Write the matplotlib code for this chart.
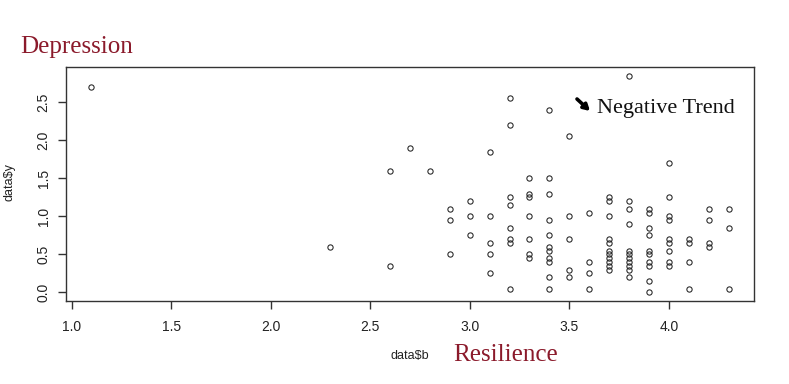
import matplotlib
matplotlib.use("Agg")
import matplotlib.pyplot as plt
import numpy as np

# Resilience (data$b) grouped by value, with Depression (data$y) values
b_levels = [1.1, 2.3, 2.6, 2.7, 2.8, 2.9, 3.0, 3.1, 3.2, 3.3, 3.4, 3.5, 3.6, 3.7, 3.8, 3.9, 4.0, 4.1, 4.2, 4.3]
y_groups = [
    [2.7],
    [0.6],
    [1.6, 0.35],
    [1.9],
    [1.6],
    [1.1, 0.95, 0.5],
    [1.2, 1.0, 0.75],
    [1.85, 1.0, 0.65, 0.5, 0.25],
    [2.55, 2.2, 1.25, 1.15, 0.85, 0.7, 0.65, 0.05],
    [1.5, 1.3, 1.25, 1.0, 0.7, 0.5, 0.45],
    [2.4, 1.5, 1.3, 0.95, 0.75, 0.6, 0.55, 0.45, 0.4, 0.2, 0.05],
    [2.05, 1.0, 0.7, 0.3, 0.2],
    [1.05, 0.4, 0.25, 0.05],
    [1.25, 1.2, 1.0, 0.7, 0.65, 0.55, 0.5, 0.45, 0.4, 0.35, 0.3],
    [2.85, 1.2, 1.1, 0.9, 0.55, 0.5, 0.45, 0.4, 0.35, 0.3, 0.2],
    [1.1, 1.05, 0.85, 0.75, 0.55, 0.5, 0.4, 0.35, 0.15, 0.0],
    [1.7, 1.25, 1.0, 0.95, 0.7, 0.65, 0.55, 0.4, 0.35],
    [0.7, 0.65, 0.4, 0.05],
    [1.1, 0.95, 0.65, 0.6],
    [1.1, 0.85, 0.05],
]
x_ticks = [1.0, 1.5, 2.0, 2.5, 3.0, 3.5, 4.0]
y_ticks = [0.0, 0.5, 1.0, 1.5, 2.0, 2.5]

b_vals = np.concatenate([[b] * len(g) for b, g in zip(b_levels, y_groups)])
y_vals = np.concatenate(y_groups)

W, H = 789, 384
fig = plt.figure(figsize=(W / 100, H / 100), dpi=100)
L, R, T, B = 66, 754, 67, 301
ax = fig.add_axes([L / W, 1 - B / H, (R - L) / W, (B - T) / H])

axc = "#333333"
ax.plot(b_vals, y_vals, linestyle="none", marker="o", markersize=3.8,
        markerfacecolor="none", markeredgecolor="#222222", markeredgewidth=0.75)

xr = (min(b_vals), max(b_vals)); xp = 0.04 * (xr[1] - xr[0])
yr = (min(y_vals), max(y_vals)); yp = 0.04 * (yr[1] - yr[0])
ax.set_xlim(xr[0] - xp, xr[1] + xp)
ax.set_ylim(yr[0] - yp, yr[1] + yp)

ax.set_xticks(x_ticks)
ax.set_xticklabels([f"{v:.1f}" for v in x_ticks])
ax.set_yticks(y_ticks)
ax.set_yticklabels([f"{v:.1f}" for v in y_ticks], rotation=90, va="center")
for s in ax.spines.values():
    s.set_color(axc)
    s.set_linewidth(1.0)
ax.tick_params(axis="both", direction="out", length=6, width=1.0, color=axc,
               labelsize=10, labelcolor="#222222", pad=5)
ax.tick_params(axis="x", pad=8)
for lab in ax.get_xticklabels() + ax.get_yticklabels():
    lab.set_family("Liberation Sans")

fig.text(10 / W, 1 - 182 / H, "data$y", rotation=90, ha="center", va="center",
         fontsize=9, family="Liberation Sans", color="#222222")
fig.text(410 / W, 1 - 356 / H, "data$b", ha="center", va="center",
         fontsize=9, family="Liberation Sans", color="#222222")

red = "#8B1A2B"
fig.text(20 / W, 1 - 47 / H, "Depression", ha="left", va="center",
         fontsize=18, family="Liberation Serif", color=red)
fig.text(453 / W, 1 - 355 / H, "Resilience", ha="left", va="center",
         fontsize=18, family="Liberation Serif", color=red)
fig.text(597 / W, 1 - 108 / H, "Negative Trend", ha="left", va="center",
         fontsize=16, family="Liberation Serif", color="#111111")
fig.patches.append(matplotlib.patches.FancyArrowPatch(
    (577 / W, 1 - 99 / H), (590 / W, 1 - 111 / H), transform=fig.transFigure,
    arrowstyle="-|>,head_length=3.5,head_width=2", mutation_scale=1,
    linewidth=2.6, color="black", shrinkA=0, shrinkB=0))

fig.savefig("out.png", dpi=100)
